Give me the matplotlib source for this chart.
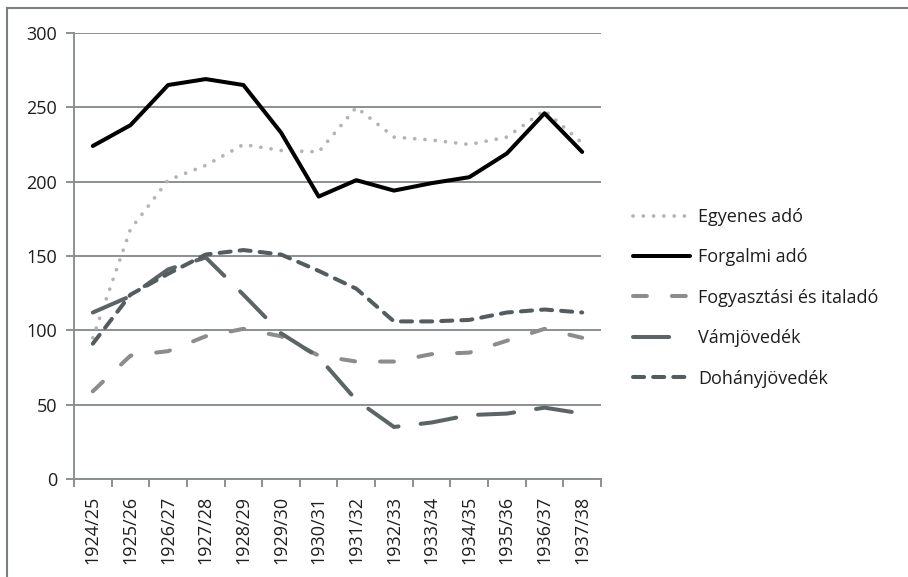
import numpy as np
import matplotlib.pyplot as plt
from matplotlib.lines import Line2D

plt.rcParams['font.family'] = ['Open Sans', 'DejaVu Sans']
plt.rcParams['lines.scale_dashes'] = False

evek = ['1924/25', '1925/26', '1926/27', '1927/28', '1928/29', '1929/30', '1930/31',
        '1931/32', '1932/33', '1933/34', '1934/35', '1935/36', '1936/37', '1937/38']

egyenes_ado = [95, 168, 201, 211, 225, 221, 220, 250, 230, 228, 225, 230, 248, 226]
forgalmi_ado = [224, 238, 265, 269, 265, 233, 190, 201, 194, 199, 203, 219, 246, 220]
fogyasztasi_ado = [59, 83, 86, 96, 101, 96, 83, 79, 79, 84, 85, 93, 101, 95]
vamjovedek = [112, 123, 141, 149, 124, 98, 82, 53, 35, 38, 43, 44, 48, 44]
dohanyjovedek = [91, 124, 138, 151, 154, 151, 140, 128, 106, 106, 107, 112, 114, 112]

grid_c = '#8a8f91'
text_c = '#1e1e1e'
fs = 13

fig = plt.figure(figsize=(9.08, 5.77), dpi=100)
ax = fig.add_axes([74 / 908, 1 - 479 / 577, (601 - 74) / 908, (479 - 33) / 577])

x = np.arange(len(evek))
lw = 2.9
ax.plot(x, egyenes_ado, color='#b3b3b3', lw=2.7, dashes=(0.01, 7.4),
        dash_capstyle='round', label='Egyenes adó', zorder=3)
ax.plot(x, forgalmi_ado, color='#000000', lw=lw, solid_capstyle='round',
        solid_joinstyle='round', label='Forgalmi adó', zorder=3)
ax.plot(x, fogyasztasi_ado, color='#8c8c8c', lw=lw, dashes=(10, 18),
        dash_capstyle='round', label='Fogyasztási és italadó', zorder=3)
ax.plot(x, vamjovedek, color='#5d6466', lw=lw, dashes=(26, 16),
        dash_capstyle='round', label='Vámjövedék', zorder=3)
ax.plot(x, dohanyjovedek, color='#555c5f', lw=lw, dashes=(8, 6.5),
        dash_capstyle='round', label='Dohányjövedék', zorder=3)

ax.set_xlim(-0.5, len(evek) - 0.5)
ax.set_ylim(0, 300)
ax.set_yticks(range(0, 301, 50))
ax.yaxis.grid(True, color=grid_c, lw=1.4)
ax.set_axisbelow(True)

ax.set_xticks(x)
ax.set_xticklabels(evek, rotation=90, fontsize=fs, color=text_c)
ax.tick_params(axis='x', length=0, pad=12)
ax.set_xticks(np.arange(-0.5, len(evek)), minor=True)
ax.tick_params(axis='x', which='minor', length=6, width=1.4, color=grid_c)
ax.tick_params(axis='y', length=6, width=1.4, color=grid_c, labelsize=fs,
               labelcolor=text_c, pad=6)

for s in ['top', 'right']:
    ax.spines[s].set_visible(False)
for s in ['left', 'bottom']:
    ax.spines[s].set_color(grid_c)
    ax.spines[s].set_linewidth(1.4)

leg = ax.legend(loc='upper left', bbox_to_anchor=(633 / 908, 1 - 208 / 577),
                bbox_transform=fig.transFigure, frameon=False, fontsize=fs,
                handlelength=3.15, handletextpad=0.45, labelspacing=1.24,
                borderaxespad=0, borderpad=0)
for t in leg.get_texts():
    t.set_color(text_c)

# keret a kép szélén
fig.add_artist(Line2D([7 / 908, 1], [1 - 8 / 577, 1 - 8 / 577], color='#7a7f81', lw=1.5))
fig.add_artist(Line2D([7 / 908, 7 / 908], [0, 1 - 8 / 577], color='#7a7f81', lw=1.5))

fig.savefig('out.png', dpi=100)
